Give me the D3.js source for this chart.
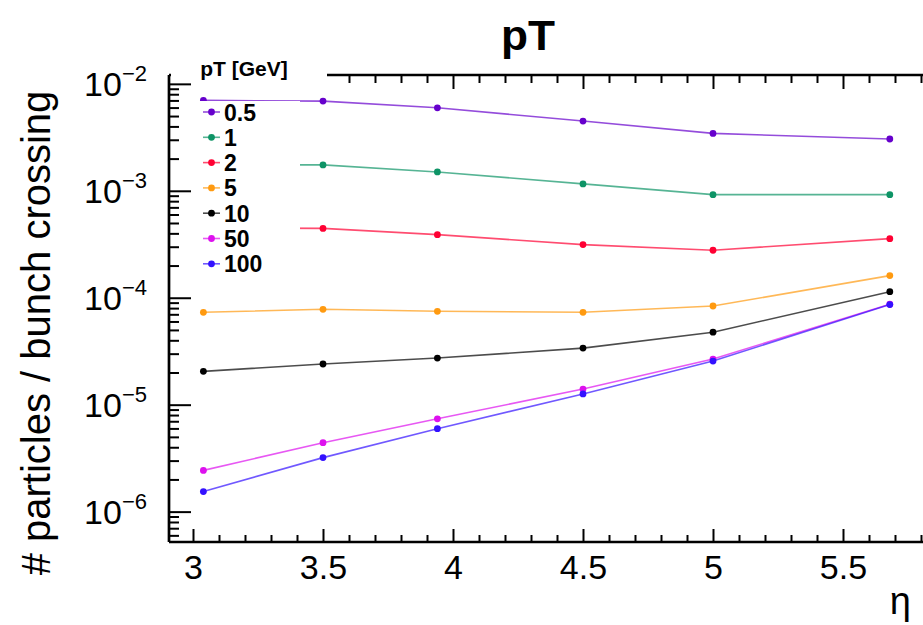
<!DOCTYPE html>
<html>
<head>
<meta charset="utf-8">
<script src="https://cdn.jsdelivr.net/npm/d3@7"></script>
<style>
  body { margin: 0; background: #fff; }
  svg { display: block; font-family: "Liberation Sans", Arial, Helvetica, sans-serif; }
  .axis path, .axis line { stroke: #000; }
</style>
</head>
<body>
<div id="chart"></div>
<script>
// eta bins (x) and particle rates per pT threshold (y, log scale)
const eta = [3.04, 3.5, 3.94, 4.5, 5.0, 5.68];
const ptLabels = ['0.5', '1', '2', '5', '10', '50', '100'];
const ptColors = ['#6600cc', '#0e9466', '#ff0033', '#ff9a10', '#000000', '#dd11ee', '#3311ff'];
const pt05 = [7.0e-3, 6.9e-3, 5.97e-3, 4.49e-3, 3.44e-3, 3.05e-3];
const pt1 = [1.75e-3, 1.746e-3, 1.50e-3, 1.16e-3, 9.2e-4, 9.2e-4];
const pt2 = [4.5e-4, 4.45e-4, 3.89e-4, 3.14e-4, 2.78e-4, 3.57e-4];
const pt5 = [7.31e-5, 7.8e-5, 7.47e-5, 7.31e-5, 8.37e-5, 1.61e-4];
const pt10 = [2.05e-5, 2.4e-5, 2.73e-5, 3.38e-5, 4.76e-5, 1.14e-4];
const pt50 = [2.43e-6, 4.41e-6, 7.38e-6, 1.40e-5, 2.67e-5, 8.69e-5];
const pt100 = [1.54e-6, 3.2e-6, 5.96e-6, 1.26e-5, 2.56e-5, 8.63e-5];
const yDecades = [1e-6, 1e-5, 1e-4, 1e-3, 1e-2];
const yExponents = ['\u22126', '\u22125', '\u22124', '\u22123', '\u22122'];
const xMajor = [3, 3.5, 4, 4.5, 5, 5.5];

const series = [pt05, pt1, pt2, pt5, pt10, pt50, pt100];

const width = 923, height = 625;
const plotLeft = 169, plotRight = 923, plotTop = 75, plotBottom = 542;

const svg = d3.select('#chart').append('svg')
    .attr('width', width)
    .attr('height', height);

let x = d3.scaleLinear().domain([2.9077, 5.8077]).range([plotLeft, plotRight]);
let y = d3.scaleLog().domain([5.2e-7, 0.0121]).range([plotBottom, plotTop]);

// minor ticks
let xMinor = d3.range(30, 59).map(d => d / 10).filter(d => !xMajor.some(m => Math.abs(m - d) < 1e-6));
let yMinor = [];
[1e-7, 1e-6, 1e-5, 1e-4, 1e-3].forEach(dec => {
    for (let k = 2; k <= 9; k++) {
        let v = dec * k;
        if (v > y.domain()[0] && v < y.domain()[1]) yMinor.push(v);
    }
});

// bottom axis
let gb = svg.append('g').attr('class', 'axis').attr('transform', `translate(0,${plotBottom})`);
gb.append('g')
    .call(d3.axisBottom(x).tickValues(xMinor).tickSize(-7).tickFormat(''))
    .call(g => g.select('.domain').remove());
gb.append('g')
    .call(d3.axisBottom(x).tickValues(xMajor).tickSize(-13).tickPadding(13).tickFormat(d3.format('')))
    .call(g => g.select('.domain').remove())
    .call(g => g.selectAll('text').attr('font-size', 34).attr('fill', '#000'));
gb.selectAll('.tick line').attr('stroke-width', 2);
gb.append('line').attr('x1', plotLeft).attr('x2', plotRight).attr('stroke', '#000').attr('stroke-width', 2.7);

// top axis
let gt = svg.append('g').attr('class', 'axis').attr('transform', `translate(0,${plotTop})`);
gt.append('g')
    .call(d3.axisTop(x).tickValues(xMinor).tickSize(-8).tickFormat(''))
    .call(g => g.select('.domain').remove());
gt.append('g')
    .call(d3.axisTop(x).tickValues(xMajor).tickSize(-14).tickFormat(''))
    .call(g => g.select('.domain').remove());
gt.selectAll('.tick line').attr('stroke-width', 2);
gt.append('line').attr('x1', plotLeft).attr('x2', plotRight).attr('stroke', '#000').attr('stroke-width', 2.7);

// lines and markers
let line = d3.line().x((d, i) => x(eta[i])).y(d => y(d));
series.forEach((vals, s) => {
    svg.append('path')
        .datum(vals)
        .attr('d', line)
        .attr('fill', 'none')
        .attr('stroke', ptColors[s])
        .attr('stroke-opacity', 0.7)
        .attr('stroke-width', 1.6);
    svg.append('g').selectAll('circle')
        .data(vals)
        .enter()
        .append('circle')
        .attr('cx', (d, i) => x(eta[i]))
        .attr('cy', d => y(d))
        .attr('r', 3.4)
        .attr('fill', ptColors[s]);
});

// legend boxes (opaque, hide what is behind)
svg.append('rect').attr('x', 171).attr('y', 52).attr('width', 156).attr('height', 40).attr('fill', '#fff');
svg.append('rect').attr('x', 171).attr('y', 101).attr('width', 129).attr('height', 175).attr('fill', '#fff');

// left axis
let gl = svg.append('g').attr('class', 'axis').attr('transform', `translate(${plotLeft},0)`);
gl.append('g')
    .call(d3.axisLeft(y).tickValues(yMinor).tickSize(-10).tickFormat(''))
    .call(g => g.select('.domain').remove());
gl.append('g')
    .call(d3.axisLeft(y).tickValues(yDecades).tickSize(-22).tickFormat(''))
    .call(g => g.select('.domain').remove());
gl.selectAll('.tick line').attr('stroke-width', 2);
gl.append('line').attr('y1', plotTop).attr('y2', plotBottom).attr('stroke', '#000').attr('stroke-width', 2.7);

// y tick labels 10^n
yDecades.forEach((v, i) => {
    let t = svg.append('text')
        .attr('x', 147)
        .attr('y', y(v) + 12)
        .attr('text-anchor', 'end')
        .attr('font-size', 34);
    t.append('tspan').text('10');
    t.append('tspan').attr('font-size', 22).attr('dy', -15).text(yExponents[i]);
});

// legend
svg.append('text')
    .attr('x', 244).attr('y', 76)
    .attr('text-anchor', 'middle')
    .attr('font-size', 21)
    .attr('font-weight', 'bold')
    .text('pT [GeV]');
let leg = svg.append('g').selectAll('g')
    .data(ptLabels)
    .enter()
    .append('g')
    .attr('transform', (d, i) => `translate(0,${112 + i * 25.3})`);
leg.append('line')
    .attr('x1', 203).attr('x2', 220)
    .attr('stroke', (d, i) => ptColors[i])
    .attr('stroke-opacity', 0.7)
    .attr('stroke-width', 1.6);
leg.append('circle')
    .attr('cx', 211.5).attr('r', 3.4)
    .attr('fill', (d, i) => ptColors[i]);
leg.append('text')
    .attr('x', 224).attr('y', 8.5)
    .attr('font-size', 23)
    .attr('font-weight', 'bold')
    .text(d => d);

// titles
svg.append('text')
    .attr('x', 528).attr('y', 50)
    .attr('text-anchor', 'middle')
    .attr('font-size', 43)
    .attr('font-weight', 'bold')
    .attr('textLength', 54)
    .attr('lengthAdjust', 'spacingAndGlyphs')
    .text('pT');
svg.append('text')
    .attr('transform', 'translate(50,333) rotate(-90)')
    .attr('text-anchor', 'middle')
    .attr('font-size', 40)
    .text('# particles / bunch crossing');
svg.append('text')
    .attr('x', 911).attr('y', 614)
    .attr('text-anchor', 'end')
    .attr('font-size', 38)
    .text('\u03b7');
</script>
</body>
</html>
